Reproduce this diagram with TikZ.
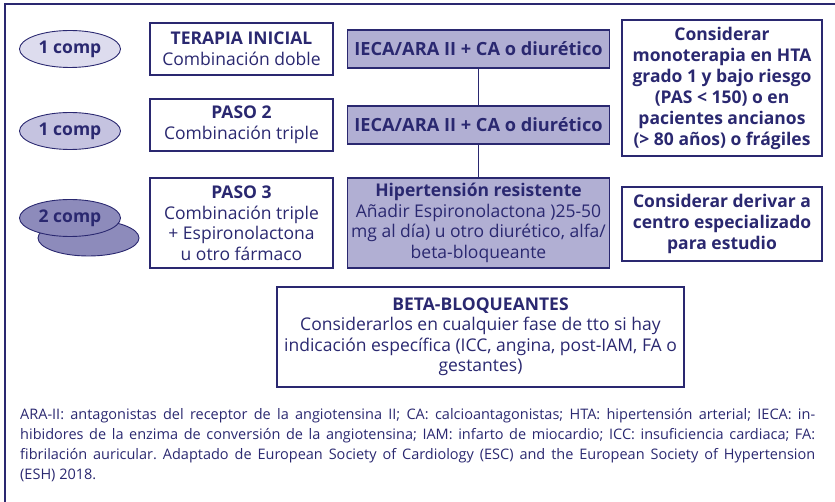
\documentclass[tikz,border=0pt]{standalone}
\usepackage{fontspec}
\setmainfont{Open Sans}
\usetikzlibrary{positioning, shapes.geometric}
\frenchspacing

\definecolor{navy}{HTML}{2A2870}
\definecolor{lilac}{HTML}{B1AFD3}
\definecolor{compA}{HTML}{DDDCEE}
\definecolor{compB}{HTML}{C5C3E0}
\definecolor{compC}{HTML}{8D8BBB}

\begin{document}
\begin{tikzpicture}[
    x=1pt, y=-1pt,
    every node/.style={text=navy, font=\fontsize{17.5}{20.5}\selectfont},
    stepbox/.style={rectangle, draw=navy, line width=1.3pt, fill=white, minimum width=183pt, align=center, inner sep=1pt},
    drugbox/.style={rectangle, draw=navy, line width=1.3pt, fill=lilac, minimum width=262pt, align=center, inner sep=1pt},
    notebox/.style={rectangle, draw=navy, line width=1.3pt, fill=white, minimum width=200pt, align=center, inner sep=1pt, font=\fontsize{17.5}{21}\selectfont\bfseries},
    compell/.style={ellipse, draw=navy, line width=0.9pt, minimum width=101pt, minimum height=37pt, inner sep=0pt, font=\fontsize{17.5}{20}\selectfont\bfseries},
    link/.style={draw=navy, line width=1pt}
]
\useasboundingbox (0,0) rectangle (835,502);
\draw[navy, line width=2.6pt] (5,502) -- (5,4) -- (835,4);

% dosing ellipses
\node[compell, fill=compA] (comp1) at (70,49) {1 comp};
\node[compell, fill=compB] (comp2) at (70,131) {1 comp};
\node[compell, fill=compC, minimum height=36pt] (comp3b) at (88.5,238) {};
\node[compell, fill=compC] (comp3) at (70,218) {2 comp};

% steps
\node[stepbox, minimum height=52pt] (inicial) at (241.5,49) {\textbf{TERAPIA INICIAL}\\Combinación doble};
\node[stepbox, minimum height=52pt] (paso2) at (241.5,125) {\textbf{PASO 2}\\Combinación triple};
\node[stepbox, minimum height=90pt] (paso3) at (241.5,223) {\textbf{PASO 3}\\Combinación triple\\+ Espironolactona\\u otro fármaco};

% drugs
\node[drugbox, minimum height=38pt, font=\fontsize{18.2}{20.5}\selectfont\bfseries] (iecaA) at (478.5,49) {IECA/ARA II + CA o diurético};
\node[drugbox, minimum height=38pt, font=\fontsize{18.2}{20.5}\selectfont\bfseries] (iecaB) at (478.5,125) {IECA/ARA II + CA o diurético};
\node[drugbox, minimum height=90pt] (resist) at (478.5,223) {\textbf{Hipertensión resistente}\\Añadir Espironolactona )25-50\\mg al día) u otro diurético, alfa/\\beta-bloqueante};

\draw[link] (iecaA) -- (iecaB);
\draw[link] (iecaB) -- (resist);

% notes
\node[notebox, minimum height=136pt] (monoter) at (722,88) {Considerar\\monoterapia en HTA\\grado 1 y bajo riesgo\\(PAS < 150) o en\\pacientes ancianos\\(> 80 años) o frágiles};
\node[notebox, minimum height=74pt] (derivar) at (722,224) {Considerar derivar a\\centro especializado\\para estudio};

\node[stepbox, minimum width=407pt, minimum height=100pt] (betabloq) at (480.5,337) {\textbf{BETA-BLOQUEANTES}\\Considerarlos en cualquier fase de tto si hay\\indicación específica (ICC, angina, post-IAM, FA o\\gestantes)};

% abbreviations
\node[anchor=north west, text width=795pt, align=justify, inner sep=0pt, font=\fontsize{14.5}{20}\selectfont] (abrev) at (20,408) {ARA-II: antagonistas del receptor de la angiotensina II; CA: calcioantagonistas; HTA: hipertensión arterial; IECA: in-\linebreak{}hibidores de la enzima de conversión de la angiotensina; IAM: infarto de miocardio; ICC: insuficiencia cardiaca; FA:\linebreak{}fibrilación auricular. Adaptado de European Society of Cardiology (ESC) and the European Society of Hypertension\linebreak{}(ESH) 2018.};
\end{tikzpicture}
\end{document}
